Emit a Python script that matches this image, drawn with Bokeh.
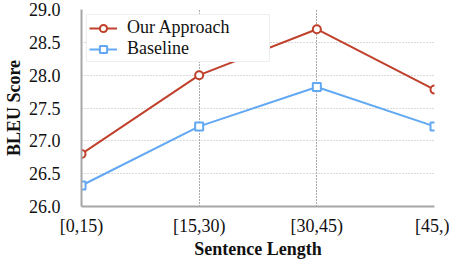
from bokeh.plotting import figure
from bokeh.models import Range1d, FixedTicker, Legend, LegendItem, PrintfTickFormatter
from bokeh.embed import file_html
from bokeh.resources import INLINE

categories = ["[0,15)", "[15,30)", "[30,45)", "[45,)"]
ours = [26.8, 28.0, 28.7, 27.78]
baseline = [26.32, 27.22, 27.82, 27.22]
y_ticks = [26.0, 26.5, 27.0, 27.5, 28.0, 28.5, 29.0]

RED = "#c0402b"
BLUE = "#62a8f2"
FONT = "Liberation Serif"

xs = list(range(len(categories)))

p = figure(width=449, height=261, output_backend="svg", toolbar_location=None,
           x_range=Range1d(0, len(categories) - 1), y_range=Range1d(26.0, 29.0),
           min_border_left=81, min_border_right=15, min_border_top=9, min_border_bottom=0)
p.outline_line_color = None
p.background_fill_color = "white"
p.border_fill_color = "white"

r1 = p.line(xs, ours, line_color=RED, line_width=2)
c1 = p.scatter(xs, ours, marker="circle", size=8, line_color=RED, line_width=2, fill_color="white")
r2 = p.line(xs, baseline, line_color=BLUE, line_width=2)
c2 = p.scatter(xs, baseline, marker="square", size=8, line_color=BLUE, line_width=2, fill_color="white")

p.xaxis.ticker = FixedTicker(ticks=xs)
p.xaxis.major_label_overrides = {i: c for i, c in enumerate(categories)}
p.yaxis.ticker = FixedTicker(ticks=y_ticks)
p.yaxis.formatter = PrintfTickFormatter(format="%.1f")

for ax in (p.xaxis[0], p.yaxis[0]):
    ax.axis_line_color = "#a6a6a6"
    ax.axis_line_width = 2
    ax.major_tick_line_color = None
    ax.minor_tick_line_color = None
    ax.major_label_text_font = FONT
    ax.major_label_text_font_size = "18px"
    ax.major_label_text_color = "#111111"
    ax.axis_label_text_font = FONT
    ax.axis_label_text_font_size = "18px"
    ax.axis_label_text_font_style = "bold"
    ax.axis_label_text_color = "#111111"

p.xaxis.axis_label = "Sentence Length"
p.yaxis.axis_label = "BLEU Score"
p.xaxis.major_label_standoff = 3
p.xaxis.axis_label_standoff = 0
p.yaxis.major_label_standoff = 15
p.yaxis.axis_label_standoff = 2

p.xgrid.grid_line_color = "#555555"
p.xgrid.grid_line_dash = "1 2"
p.xgrid.grid_line_width = 1
p.ygrid.grid_line_color = "#b5b5b5"
p.ygrid.grid_line_dash = "1 2"
p.ygrid.grid_line_width = 1

legend = Legend(items=[LegendItem(label="Our Approach", renderers=[r1, c1]),
                       LegendItem(label="Baseline", renderers=[r2, c2])],
                location="top_left")
legend.label_text_font = FONT
legend.label_text_font_size = "18px"
legend.label_text_color = "#111111"
legend.border_line_color = "#dddddd"
legend.border_line_width = 1
legend.background_fill_color = "white"
legend.background_fill_alpha = 1
legend.glyph_width = 28
legend.glyph_height = 18
legend.label_height = 18
legend.label_width = 140
legend.spacing = 0
legend.padding = 2
legend.label_standoff = 10
legend.margin = 5
p.add_layout(legend)

open("out.html", "w").write(file_html(p, INLINE))
